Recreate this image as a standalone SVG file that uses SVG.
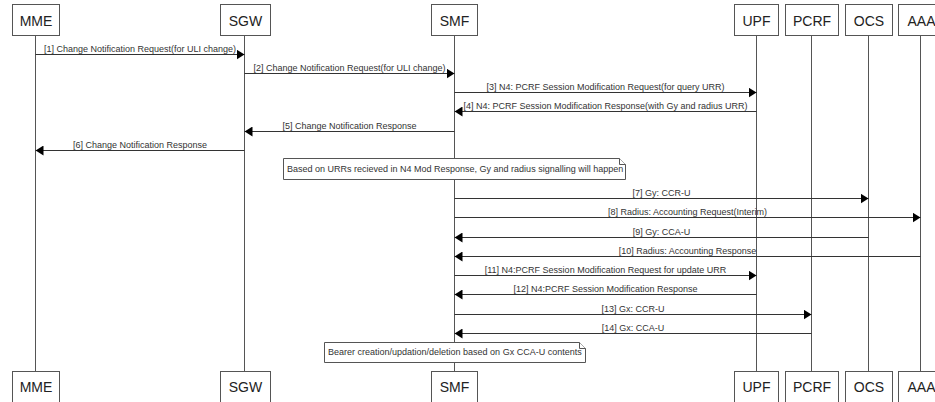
<svg xmlns="http://www.w3.org/2000/svg" width="935" height="402" viewBox="0 0 935 402">
<style>
.box{fill:#fff;stroke:#555;stroke-width:1}
.life{stroke:#555;stroke-width:1}
.msg{stroke:#333;stroke-width:1;fill:none;marker-end:url(#ah)}
.hd{font-family:"Liberation Sans",Arial,sans-serif;font-size:14px;fill:#222;text-anchor:middle}
.lb{font-family:"Liberation Sans",Arial,sans-serif;font-size:9px;fill:#333;text-anchor:middle}
.nt{font-family:"Liberation Sans",Arial,sans-serif;font-size:9px;fill:#333}
.note{fill:#fff;stroke:#555;stroke-width:1}
</style>
<defs>
<marker id="ah" viewBox="0 0 8 10" refX="8" refY="5" markerWidth="8" markerHeight="10" orient="auto" markerUnits="userSpaceOnUse"><path d="M0,0 L8,5 L0,10 z" fill="#000"/></marker>
</defs>
<rect width="935" height="402" fill="#fff"/>
<g id="lifelines">
<line class="life" x1="35.5" y1="35" x2="35.5" y2="371"/>
<line class="life" x1="244.5" y1="35" x2="244.5" y2="371"/>
<line class="life" x1="454.5" y1="35" x2="454.5" y2="371"/>
<line class="life" x1="756.5" y1="35" x2="756.5" y2="371"/>
<line class="life" x1="811.5" y1="35" x2="811.5" y2="371"/>
<line class="life" x1="868.5" y1="35" x2="868.5" y2="371"/>
<line class="life" x1="920.5" y1="35" x2="920.5" y2="371"/>
</g>
<g id="MME"><rect class="box" x="12.5" y="4.5" width="47" height="31"/><text class="hd" x="36" y="25.5">MME</text>
<rect class="box" x="12.5" y="371.5" width="47" height="31"/><text class="hd" x="36" y="392">MME</text></g>
<g id="SGW"><rect class="box" x="220.5" y="4.5" width="50" height="31"/><text class="hd" x="245.5" y="25.5">SGW</text>
<rect class="box" x="220.5" y="371.5" width="50" height="31"/><text class="hd" x="245.5" y="392">SGW</text></g>
<g id="SMF"><rect class="box" x="431.5" y="4.5" width="46" height="31"/><text class="hd" x="454.5" y="25.5">SMF</text>
<rect class="box" x="431.5" y="371.5" width="46" height="31"/><text class="hd" x="454.5" y="392">SMF</text></g>
<g id="UPF"><rect class="box" x="734.5" y="4.5" width="44" height="31"/><text class="hd" x="756.5" y="25.5">UPF</text>
<rect class="box" x="734.5" y="371.5" width="44" height="31"/><text class="hd" x="756.5" y="392">UPF</text></g>
<g id="PCRF"><rect class="box" x="785.5" y="4.5" width="53" height="31"/><text class="hd" x="812" y="25.5">PCRF</text>
<rect class="box" x="785.5" y="371.5" width="53" height="31"/><text class="hd" x="812" y="392">PCRF</text></g>
<g id="OCS"><rect class="box" x="845.5" y="4.5" width="47" height="31"/><text class="hd" x="869" y="25.5">OCS</text>
<rect class="box" x="845.5" y="371.5" width="47" height="31"/><text class="hd" x="869" y="392">OCS</text></g>
<g id="AAA"><rect class="box" x="898.5" y="4.5" width="46" height="31"/><text class="hd" x="921.5" y="25.5">AAA</text>
<rect class="box" x="898.5" y="371.5" width="46" height="31"/><text class="hd" x="921.5" y="392">AAA</text></g>
<g id="connectors">
<line class="msg" x1="35.5" y1="54.5" x2="244.5" y2="54.5"/>
<text class="lb" x="140" y="52">[1] Change Notification Request(for ULI change)</text>
<line class="msg" x1="244.5" y1="73.5" x2="454.5" y2="73.5"/>
<text class="lb" x="349.5" y="71">[2] Change Notification Request(for ULI change)</text>
<line class="msg" x1="454.5" y1="92.5" x2="756.5" y2="92.5"/>
<text class="lb" x="605.5" y="90">[3] N4: PCRF Session Modification Request(for query URR)</text>
<line class="msg" x1="756.5" y1="111.5" x2="454.5" y2="111.5"/>
<text class="lb" x="605.5" y="109">[4] N4: PCRF Session Modification Response(with Gy and radius URR)</text>
<line class="msg" x1="454.5" y1="131.5" x2="244.5" y2="131.5"/>
<text class="lb" x="349.5" y="129">[5] Change Notification Response</text>
<line class="msg" x1="244.5" y1="150.5" x2="35.5" y2="150.5"/>
<text class="lb" x="140" y="148">[6] Change Notification Response</text>
<line class="msg" x1="454.5" y1="198.5" x2="868.5" y2="198.5"/>
<text class="lb" x="661.5" y="196">[7] Gy: CCR-U</text>
<line class="msg" x1="454.5" y1="217.5" x2="920.5" y2="217.5"/>
<text class="lb" x="687.5" y="215">[8] Radius: Accounting Request(Interim)</text>
<line class="msg" x1="868.5" y1="237.5" x2="454.5" y2="237.5"/>
<text class="lb" x="661.5" y="235">[9] Gy: CCA-U</text>
<line class="msg" x1="920.5" y1="256.5" x2="454.5" y2="256.5"/>
<text class="lb" x="687.5" y="254">[10] Radius: Accounting Response</text>
<line class="msg" x1="454.5" y1="275.5" x2="756.5" y2="275.5"/>
<text class="lb" x="605.5" y="273">[11] N4:PCRF Session Modification Request for update URR</text>
<line class="msg" x1="756.5" y1="294.5" x2="454.5" y2="294.5"/>
<text class="lb" x="605.5" y="292">[12] N4:PCRF Session Modification Response</text>
<line class="msg" x1="454.5" y1="314.5" x2="811.5" y2="314.5"/>
<text class="lb" x="633" y="312">[13] Gx: CCR-U</text>
<line class="msg" x1="811.5" y1="333.5" x2="454.5" y2="333.5"/>
<text class="lb" x="633" y="331">[14] Gx: CCA-U</text>
</g>
<g id="note1">
<path class="note" d="M283.5,158.5 H619.5 L625.5,164.5 V179.5 H283.5 Z"/>
<path class="note" d="M619.5,158.5 V164.5 H625.5" fill="none"/>
<text class="nt" x="287" y="172">Based on URRs recieved in N4 Mod Response, Gy and radius signalling will happen</text>
</g>
<g id="note2">
<path class="note" d="M324.5,342.5 H579.5 L585.5,348.5 V362.5 H324.5 Z"/>
<path class="note" d="M579.5,342.5 V348.5 H585.5" fill="none"/>
<text class="nt" x="328" y="355">Bearer creation/updation/deletion based on Gx CCA-U contents</text>
</g>
</svg>
